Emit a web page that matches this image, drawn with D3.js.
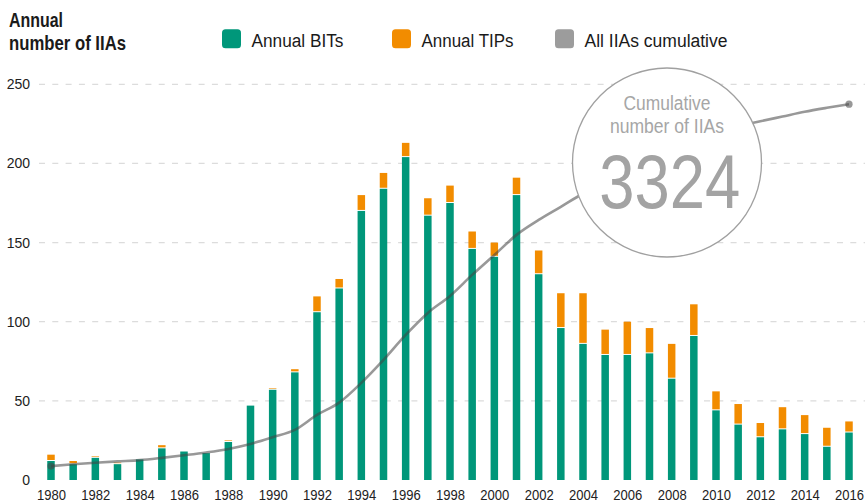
<!DOCTYPE html>
<html>
<head>
<meta charset="utf-8">
<script src="https://cdn.jsdelivr.net/npm/d3@7"></script>
<style>
  html, body { margin: 0; padding: 0; background: #fff; }
  svg { display: block; font-family: "Liberation Sans", Arial, sans-serif; }
</style>
</head>
<body>
<svg id="chart" width="865" height="502"></svg>
<script>
// ---- data ----
const years = d3.range(1980, 2017);
const annualBITs = [12,10,14,10,13,20,18,17,24,47,57,68,106,121,170,184,204,167,175,146,141,180,130,96,86,79,79,80,64,91,44,35,27,32,29,21,30];
const annualTIPs = [4,2,1,1,0,2,0,0,1,0,1,2,10,6,10,10,9,11,11,11,9,11,15,22,32,16,21,16,22,20,12,13,9,14,12,12,7];
const cumulativeIIAs = [123,139,153,165,176,196,219,244,275,319,378,443,576,684,859,1062,1283,1478,1628,1814,1990,2168,2300,2416,2534,2631,2730,2827,2913,3025,3083,3132,3173,3215,3257,3292,3324];
const yTicks = [0, 50, 100, 150, 200, 250];
const xTickYears = d3.range(1980, 2017, 2);
const legendItems = ["Annual BITs", "Annual TIPs", "All IIAs cumulative"];
const titleLines = ["Annual", "number of IIAs"];
const calloutLines = ["Cumulative", "number of IIAs"];
const calloutValue = "3324";

// ---- styles ----
const GREEN = "#00977a", ORANGE = "#f28c00", GREY = "#9c9c9c";

const svg = d3.select("#chart");

const x = d3.scaleLinear().domain([1980, 2016]).range([51, 849]);
const y = d3.scaleLinear().domain([0, 250]).range([480, 84.3]);
const yCum = d3.scaleLinear().domain([0, 3500]).range([480, 84.3]);
const barW = 7.5;

// gridlines
svg.append("g").selectAll("line")
  .data(yTicks.filter(d => d > 0))
  .join("line")
  .attr("x1", 39).attr("x2", 865)
  .attr("y1", d => y(d)).attr("y2", d => y(d))
  .attr("stroke", "#dcdcdc").attr("stroke-width", 1.3)
  .attr("stroke-dasharray", "6,7.3");

// y axis
const yAxis = svg.append("g").attr("transform", "translate(39,0)")
  .call(d3.axisLeft(y).tickValues(yTicks).tickSize(0).tickPadding(9));
yAxis.select(".domain").remove();
yAxis.selectAll("text").attr("font-size", 14).attr("fill", "#222")
  .attr("font-family", "'Liberation Sans', Arial, sans-serif");

// x axis
const xAxis = svg.append("g").attr("transform", "translate(0,480)")
  .call(d3.axisBottom(x).tickValues(xTickYears).tickFormat(d3.format("d")).tickSize(0).tickPadding(10));
xAxis.select(".domain").remove();
xAxis.selectAll("text").attr("font-size", 14).attr("fill", "#222")
  .attr("font-family", "'Liberation Sans', Arial, sans-serif")
  .attr("textLength", 29).attr("lengthAdjust", "spacingAndGlyphs");

// bars
const rows = years.map((yr, i) => ({ yr, bit: annualBITs[i], tip: annualTIPs[i] }));
const bars = svg.append("g");
bars.selectAll("rect.bit").data(rows).join("rect").attr("class", "bit")
  .attr("x", d => x(d.yr) - barW / 2).attr("width", barW)
  .attr("y", d => y(d.bit)).attr("height", d => y(0) - y(d.bit))
  .attr("fill", GREEN);
bars.selectAll("rect.tip").data(rows.filter(d => d.tip > 0)).join("rect").attr("class", "tip")
  .attr("x", d => x(d.yr) - barW / 2).attr("width", barW)
  .attr("y", d => y(d.bit + d.tip))
  .attr("height", d => Math.max(0.4, y(d.bit) - y(d.bit + d.tip) - 1))
  .attr("fill", ORANGE);

// cumulative line
const line = d3.line().x((d, i) => x(years[i])).y(d => yCum(d)).curve(d3.curveMonotoneX);
svg.append("path").datum(cumulativeIIAs)
  .attr("d", line).attr("fill", "none")
  .attr("stroke", "#444").attr("stroke-opacity", 0.55).attr("stroke-width", 2.6);
svg.append("g").selectAll("circle")
  .data([0, cumulativeIIAs.length - 1])
  .join("circle")
  .attr("cx", i => x(years[i])).attr("cy", i => yCum(cumulativeIIAs[i]))
  .attr("r", 3.6).attr("fill", "#444").attr("fill-opacity", 0.55);

// callout circle
const cx = 667, cy = 162.5;
svg.append("circle").attr("cx", cx).attr("cy", cy).attr("r", 94.5)
  .attr("fill", "#fff").attr("stroke", "#a0a0a0").attr("stroke-width", 1.3);
const callLens = [87, 114];
svg.append("g").selectAll("text").data(calloutLines).join("text")
  .attr("x", cx).attr("y", (d, i) => 110 + i * 22.7)
  .attr("text-anchor", "middle").attr("font-size", 20).attr("fill", "#a6a6a6")
  .attr("textLength", (d, i) => callLens[i]).attr("lengthAdjust", "spacingAndGlyphs")
  .text(d => d);
svg.append("text").attr("x", 669.7).attr("y", 208)
  .attr("text-anchor", "middle").attr("font-size", 76).attr("fill", "#a3a3a3")
  .attr("textLength", 141).attr("lengthAdjust", "spacingAndGlyphs")
  .text(calloutValue);

// title
const titleLens = [54, 117];
svg.append("g").selectAll("text").data(titleLines).join("text")
  .attr("x", 9).attr("y", (d, i) => 26.7 + i * 23.3)
  .attr("font-size", 20.5).attr("font-weight", "bold").attr("fill", "#1a1a1a")
  .attr("textLength", (d, i) => titleLens[i]).attr("lengthAdjust", "spacingAndGlyphs")
  .text(d => d);

// legend
const legX = [222, 392, 555];
const legTextLens = [92, 92, 143];
const legColors = [GREEN, ORANGE, GREY];
const leg = svg.append("g").selectAll("g").data(legendItems).join("g")
  .attr("transform", (d, i) => `translate(${legX[i]},29.3)`);
leg.append("rect").attr("width", 19).attr("height", 19).attr("rx", 3.5)
  .attr("fill", (d, i) => legColors[i]);
leg.append("text").attr("x", 29.5).attr("y", 18)
  .attr("font-size", 18).attr("fill", "#1a1a1a")
  .attr("textLength", (d, i) => legTextLens[i]).attr("lengthAdjust", "spacingAndGlyphs")
  .text(d => d);
</script>
</body>
</html>
